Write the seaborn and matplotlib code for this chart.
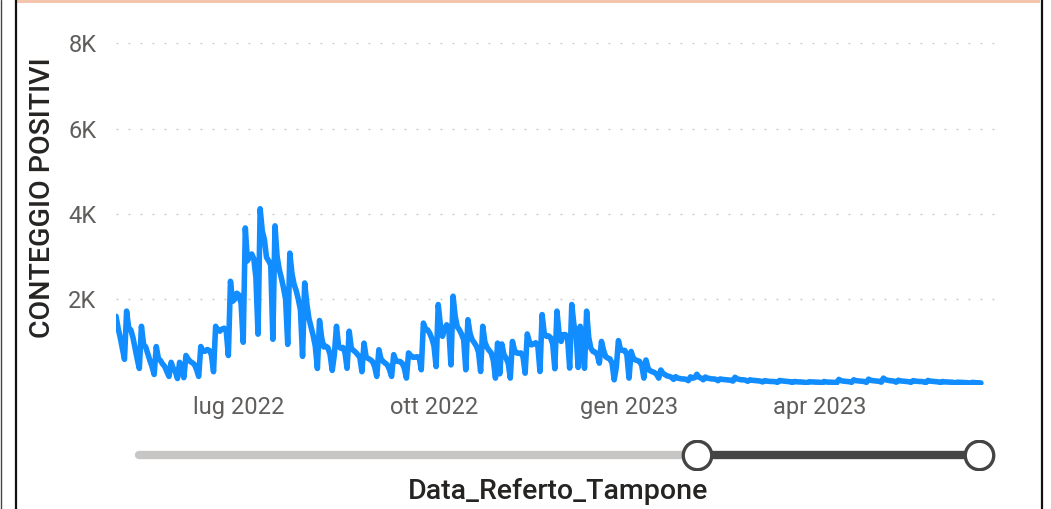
import numpy as np
import pandas as pd
import matplotlib
matplotlib.use("Agg")
import matplotlib.pyplot as plt
from matplotlib.lines import Line2D
from matplotlib.patches import Rectangle
import seaborn as sns

# Daily positive counts, starting 2022-05-04 (one row per week, Mon..Sun)
start_date = "2022-05-04"
first_days = [1600, 1320, 1100, 850, 590]
spring_2022 = [
    [1720, 1320, 1280, 1100, 850, 600, 376],
    [1365, 940, 880, 720, 560, 420, 235],
    [890, 610, 560, 480, 420, 300, 190],
    [520, 380, 300, 140, 520, 380, 160],
    [680, 600, 540, 510, 470, 350, 190],
    [890, 780, 780, 820, 800, 700, 300],
    [1365, 1280, 1250, 1300, 1320, 1250, 680],
]
summer_2022 = [
    [2420, 1950, 2000, 2140, 2100, 1900, 990],
    [3670, 2900, 3000, 3060, 2950, 2500, 1180],
    [4120, 3600, 3400, 2980, 2900, 2800, 1060],
    [3720, 3000, 2700, 2500, 2270, 2000, 940],
    [3080, 2600, 2350, 2200, 2000, 1750, 660],
    [2380, 1900, 1550, 1350, 1150, 900, 376],
    [1500, 1100, 880, 900, 860, 700, 330],
    [700, 1365, 900, 850, 870, 750, 380],
    [1250, 850, 800, 760, 700, 640, 300],
    [970, 640, 610, 580, 540, 420, 190],
    [815, 600, 540, 500, 460, 350, 190],
    [700, 560, 540, 540, 500, 380, 150],
    [740, 680, 640, 640, 650, 640, 345],
]
autumn_2022 = [
    [1440, 1300, 1280, 1200, 1080, 900, 420],
    [1875, 1400, 1130, 1300, 1400, 1300, 460],
    [2070, 1600, 1350, 1280, 1180, 1050, 345],
    [1520, 1200, 1050, 980, 900, 760, 305],
    [1365, 1000, 870, 800, 740, 560, 150],
    [970, 250, 950, 700, 620, 500, 150],
    [1010, 800, 740, 730, 740, 650, 265],
    [1185, 1000, 930, 950, 980, 900, 305],
    [1640, 1200, 1130, 1140, 1100, 950, 370],
    [1720, 1200, 1010, 1170, 1170, 1100, 385],
    [1875, 1400, 1200, 400, 1365, 1000, 380],
    [1720, 1100, 850, 775, 760, 700, 500],
    [1010, 800, 650, 620, 600, 500, 110],
]
winter_2023 = [
    [400, 1030, 815, 800, 800, 700, 150],
    [775, 620, 575, 560, 540, 450, 150],
    [575, 380, 320, 300, 280, 240, 150],
    [340, 263, 230, 200, 190, 170, 120],
    [183, 150, 140, 130, 130, 120, 90],
    [180, 150, 160, 240, 170, 150, 110],
    [175, 150, 140, 130, 130, 120, 90],
    [130, 120, 115, 110, 105, 100, 80],
    [170, 130, 120, 110, 110, 100, 75],
]
spring_2023 = [
    [110, 100, 95, 90, 85, 80, 60],
    [90, 80, 75, 70, 70, 65, 50],
    [95, 85, 80, 75, 70, 65, 45],
    [70, 65, 60, 60, 55, 50, 40],
    [65, 60, 60, 55, 55, 50, 40],
    [70, 60, 55, 55, 50, 50, 40],
    [120, 90, 80, 75, 70, 65, 50],
    [110, 90, 85, 80, 75, 70, 50],
    [125, 100, 90, 85, 80, 75, 55],
    [150, 110, 100, 90, 85, 80, 55],
    [100, 85, 80, 75, 70, 65, 50],
    [90, 80, 75, 70, 70, 60, 45],
    [95, 80, 75, 70, 65, 60, 45],
    [70, 60, 60, 55, 55, 50, 40],
    [55, 50, 50, 45, 45, 40, 35],
    [50, 45, 40, 40, 35],
]

ytick_values = [2000, 4000, 6000, 8000]
ytick_labels = ["2K", "4K", "6K", "8K"]
xtick_dates = ["2022-07-01", "2022-10-01", "2023-01-01", "2023-04-01"]
xtick_labels = ["lug 2022", "ott 2022", "gen 2023", "apr 2023"]
x_range_days = 417

# date slicer state
slider_track_start = "2022-05-15"
slider_handles = ["2023-02-02", "2023-06-15"]

values = list(first_days)
for block in (spring_2022, summer_2022, autumn_2022, winter_2023, spring_2023):
    for week in block:
        values.extend(week)
df = pd.DataFrame({
    "Data_Referto_Tampone": pd.date_range(start_date, periods=len(values), freq="D"),
    "positivi": values,
})

sns.set_style("white")
plt.rcParams["font.family"] = ["Roboto", "DejaVu Sans"]

W, H = 1051, 509
fig = plt.figure(figsize=(W / 100, H / 100), dpi=100)
fx = lambda px: px / W
fy = lambda py: 1 - py / H

ax = fig.add_axes([fx(116), fy(384.5), fx(1000) - fx(116), fy(43.3) - fy(384.5)])
sns.lineplot(data=df, x="Data_Referto_Tampone", y="positivi", ax=ax,
             color="#118DFF", linewidth=4.0, errorbar=None,
             solid_joinstyle="round", solid_capstyle="round")

t0 = pd.Timestamp(start_date)
ax.set_xlim(t0, t0 + pd.Timedelta(days=x_range_days))
ax.set_ylim(0, 8000)
ax.set_yticks(ytick_values, ytick_labels)
ax.set_xticks(pd.to_datetime(xtick_dates), xtick_labels)
ax.yaxis.grid(True, color="#c8c8c8", linewidth=1.0, linestyle=(0, (1.4, 7.24)))
ax.xaxis.grid(False)
ax.tick_params(axis="both", length=0, labelsize=17, labelcolor="#605e5c")
ax.tick_params(axis="y", pad=14)
ax.tick_params(axis="x", pad=8)
for s in ax.spines.values():
    s.set_visible(False)
ax.set_xlabel("")
ax.set_ylabel("")
ax.text(-0.0837, 0.547, "CONTEGGIO POSITIVI", transform=ax.transAxes, rotation=90,
        ha="center", va="center", fontsize=20.5, fontweight="medium", color="#252423")
ax.text(0.5, -0.315, "Data_Referto_Tampone", transform=ax.transAxes,
        ha="center", va="center", fontsize=20.5, fontweight="medium", color="#252423")

# slicer bar under the chart, on the same date scale
sax = fig.add_axes([fx(116), fy(470), fx(1000) - fx(116), fy(440) - fy(470)], sharex=ax)
sax.set_ylim(0, 1)
sax.axis("off")
h0, h1 = pd.to_datetime(slider_handles)
sax.plot([pd.Timestamp(slider_track_start), h0], [0.5, 0.5], color="#c8c6c4",
         linewidth=6.0, solid_capstyle="round")
sax.plot([h0, h1], [0.5, 0.5], color="#444444", linewidth=6.0, solid_capstyle="butt")
sax.scatter([h0, h1], [0.5, 0.5], s=420, facecolor="white", edgecolor="#444444",
            linewidth=2.4, zorder=3)

# report frame
fig.add_artist(Rectangle((fx(17), fy(2.5)), fx(1040) - fx(17), 2.5 / H,
                         transform=fig.transFigure, color="#f5c5ae", lw=0))
fig.add_artist(Line2D([fx(15.5), fx(15.5)], [0, 1], color="#111111", lw=1.6))
fig.add_artist(Line2D([fx(1042), fx(1042)], [0, 1], color="#111111", lw=1.6))
fig.add_artist(Line2D([fx(0.5), fx(0.5)], [0, 1], color="#444444", lw=1.0))

fig.savefig("out.png", dpi=100)
